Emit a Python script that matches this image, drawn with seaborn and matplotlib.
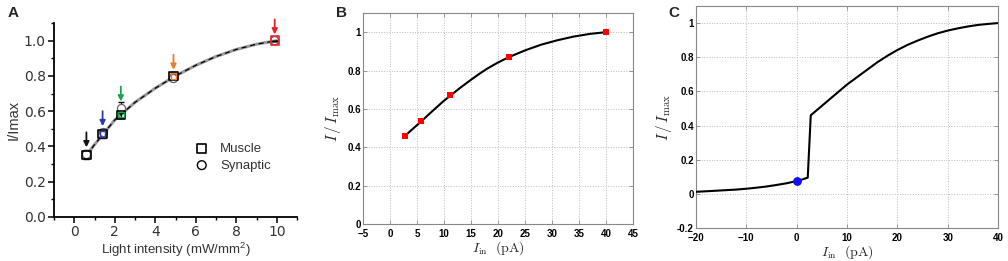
import numpy as np
import pandas as pd
import matplotlib
matplotlib.use("Agg")
import matplotlib.pyplot as plt
from matplotlib.ticker import MultipleLocator
import seaborn as sns

sns.set_style("white")
plt.rcParams['font.family'] = ['Liberation Sans', 'DejaVu Sans']
plt.rcParams['mathtext.fontset'] = 'cm'

# ---------------- data ----------------
# Panel A
a_x = [0.6, 1.4, 2.3, 4.9, 9.9]
a_muscle = [0.35, 0.47, 0.58, 0.80, 1.00]
a_muscle_err = [0.02, 0.02, 0.02, 0.02, 0.0]
a_syn = [0.36, 0.48, 0.62, 0.79, 1.00]
a_syn_err = [0.02, 0.02, 0.03, 0.02, 0.0]
a_colors = ['#111111', '#2b3aa8', '#1aa34a', '#f07a2a', '#e8202a']
a_fit_x = [0.6, 1.0, 1.5, 2.0, 2.5, 3.0, 3.5, 4.0, 4.5, 5.0, 5.5, 6.0, 6.5, 7.0, 7.5, 8.0, 8.5, 9.0, 9.5, 10.0]
a_fit_y = [0.35, 0.41, 0.48, 0.55, 0.60, 0.65, 0.69, 0.73, 0.765, 0.80, 0.83, 0.86, 0.885, 0.91, 0.93, 0.95, 0.965, 0.98, 0.99, 1.00]

# Panel B
b_x = [2.8, 5.8, 11.2, 22.0, 40.0]
b_y = [0.46, 0.535, 0.67, 0.87, 1.0]
b_curve_x = [2.8, 4.3, 5.8, 7.2, 8.5, 9.8, 11.2, 13.0, 15.0, 16.5, 18.0, 20.0, 22.0, 25.0, 28.0, 31.0, 34.0, 37.0, 40.0]
b_curve_y = [0.46, 0.498, 0.535, 0.572, 0.605, 0.638, 0.67, 0.71, 0.752, 0.782, 0.81, 0.842, 0.87, 0.905, 0.935, 0.958, 0.977, 0.991, 1.0]

# Panel C
c_curve_x = [-20, -18, -15, -12, -10, -8, -6, -4, -2, 0, 1.0, 2.2, 2.8, 5, 8, 10, 13, 16, 18, 20, 22, 24, 26, 28, 30, 32, 34, 36, 38, 40]
c_curve_y = [0.012, 0.015, 0.02, 0.025, 0.03, 0.036, 0.043, 0.052, 0.062, 0.075, 0.083, 0.095, 0.46, 0.515, 0.59, 0.64, 0.705, 0.77, 0.808, 0.842, 0.872, 0.897, 0.92, 0.94, 0.956, 0.969, 0.98, 0.989, 0.995, 1.0]
c_dot_x = [0.0]
c_dot_y = [0.075]

W, H = 1008, 261
fig = plt.figure(figsize=(W / 100, H / 100), dpi=100)

def px(l, r, t, b):
    return [l / W, (H - b) / H, (r - l) / W, (b - t) / H]

# ---------------- Panel A ----------------
txtc = '#333333'
axA = fig.add_axes(px(54, 297, 23, 217))
sns.lineplot(x=a_fit_x, y=a_fit_y, ax=axA, color='#9a9a9a', lw=2.2, zorder=2)
sns.lineplot(x=a_fit_x, y=a_fit_y, ax=axA, color='black', lw=0.9, zorder=3)
axA.lines[-1].set_dashes([4, 3])
axA.errorbar(a_x, a_syn, yerr=a_syn_err, fmt='none', ecolor='black', elinewidth=0.8, capsize=2.5, zorder=4)
axA.errorbar(a_x, a_muscle, yerr=a_muscle_err, fmt='none', ecolor='black', elinewidth=0.8, capsize=2.5, zorder=4)
dfA = pd.DataFrame({'x': a_x, 'm': a_muscle, 's': a_syn, 'c': a_colors})
for i, r in dfA.iterrows():
    ec = 'black' if i < 4 else r['c']
    axA.scatter(r['x'], r['s'], marker='o', s=34, facecolor='white' if i != 4 else 'none', edgecolor='#666666', lw=0.9, zorder=4.5)
    axA.scatter(r['x'], r['m'], marker='s', s=36, facecolor='none', edgecolor=ec, lw=1.2, zorder=5)
    if i in (1, 2, 3):
        axA.scatter(r['x'], r['m'], marker='s', s=16, facecolor='none', edgecolor=r['c'], lw=1.0, zorder=5)
    top = max(r['m'], r['s']) + 0.035
    axA.annotate('', xy=(r['x'], top), xytext=(r['x'], top + 0.085),
                 arrowprops=dict(arrowstyle='-|>', color=r['c'], lw=1.3, mutation_scale=8,
                                 shrinkA=0, shrinkB=0),
                 annotation_clip=False, zorder=6)
axA.set_xlim(-1, 11)
axA.set_ylim(0, 1.1)
axA.set_xticks([0, 2, 4, 6, 8, 10])
axA.set_yticks([0.0, 0.2, 0.4, 0.6, 0.8, 1.0])
axA.set_yticklabels(['0.0', '0.2', '0.4', '0.6', '0.8', '1.0'])
axA.xaxis.set_minor_locator(MultipleLocator(1))
axA.yaxis.set_minor_locator(MultipleLocator(0.1))
for s in ['top', 'right']:
    axA.spines[s].set_visible(False)
for s in ['left', 'bottom']:
    axA.spines[s].set_color('black')
    axA.spines[s].set_linewidth(1.3)
axA.tick_params(which='major', direction='out', length=4, width=1.1, colors='black', labelcolor=txtc,
                labelsize=10, bottom=True, left=True, pad=2)
axA.tick_params(which='minor', direction='out', length=2.5, width=1.0, colors='black', bottom=True, left=True)
for lab in axA.get_xticklabels() + axA.get_yticklabels():
    lab.set_family('DejaVu Sans')
axA.set_xlabel('Light intensity (mW/mm$\\mathregular{^2}$)', fontsize=9.5, color=txtc, labelpad=1)
axA.set_ylabel('I/Imax', fontsize=10.5, color=txtc, labelpad=2)
hm = axA.scatter([], [], marker='s', s=40, facecolor='none', edgecolor='black', lw=1.2, label='Muscle')
hs = axA.scatter([], [], marker='o', s=40, facecolor='none', edgecolor='black', lw=1.0, label='Synaptic')
leg = axA.legend(handles=[hm, hs], loc='lower right', bbox_to_anchor=(0.92, 0.2), frameon=False,
                 fontsize=9.5, handletextpad=0.4, labelspacing=0.35, borderpad=0)
for t in leg.get_texts():
    t.set_color(txtc)
fig.text(8 / W, 1 - 17 / H, 'A', fontsize=11, fontweight='bold', ha='left', va='baseline')

# ---------------- Panel B & C common style ----------------
def matlab_style(ax):
    for s in ax.spines.values():
        s.set_color('#888888')
        s.set_linewidth(0.8)
    ax.grid(True, ls=':', color='#bbbbbb', lw=0.7)
    ax.tick_params(axis='both', direction='in', length=3, width=0.6, colors='#888888', labelcolor='black',
                   labelsize=7, bottom=True, left=True, top=True, right=True)
    ax.tick_params(axis='x', pad=3.5)
    ax.tick_params(axis='y', pad=1.5)
    for lab in ax.get_xticklabels() + ax.get_yticklabels():
        lab.set_fontweight('bold')

# ---------------- Panel B ----------------
axB = fig.add_axes(px(363, 633, 13, 224))
sns.lineplot(x=b_curve_x, y=b_curve_y, ax=axB, color='black', lw=1.5, zorder=3)
sns.scatterplot(x=b_x, y=b_y, ax=axB, marker='s', s=22, color='red', edgecolor='red', linewidth=0, zorder=4)
axB.set_xlim(-5, 45)
axB.set_ylim(0, 1.1)
axB.set_xticks(range(-5, 46, 5))
axB.set_yticks([0, 0.2, 0.4, 0.6, 0.8, 1])
axB.set_yticklabels(['0', '0.2', '0.4', '0.6', '0.8', '1'])
matlab_style(axB)
axB.set_xlabel(r'$I_{\rm in}\ \ (\rm pA)$', fontsize=10, labelpad=0)
axB.set_ylabel(r'$I\,/\,I_{\rm max}$', fontsize=11, labelpad=3)
fig.text(336 / W, 1 - 17 / H, 'B', fontsize=11, fontweight='bold', ha='left', va='baseline')

# ---------------- Panel C ----------------
axC = fig.add_axes(px(696, 998, 6, 228))
sns.lineplot(x=c_curve_x, y=c_curve_y, ax=axC, color='black', lw=1.5, zorder=3)
sns.scatterplot(x=c_dot_x, y=c_dot_y, ax=axC, s=40, color='#1010ff', edgecolor='#1010ff', linewidth=0, zorder=4)
axC.set_xlim(-20, 40)
axC.set_ylim(-0.2, 1.1)
axC.set_xticks([-20, -10, 0, 10, 20, 30, 40])
axC.set_yticks([-0.2, 0, 0.2, 0.4, 0.6, 0.8, 1])
axC.set_yticklabels(['-0.2', '0', '0.2', '0.4', '0.6', '0.8', '1'])
matlab_style(axC)
axC.set_xlabel(r'$I_{\rm in}\ \ (\rm pA)$', fontsize=10, labelpad=0)
axC.set_ylabel(r'$I\,/\,I_{\rm max}$', fontsize=11, labelpad=2)
fig.text(668 / W, 1 - 17 / H, 'C', fontsize=11, fontweight='bold', ha='left', va='baseline')

fig.savefig('out.png', dpi=100)
